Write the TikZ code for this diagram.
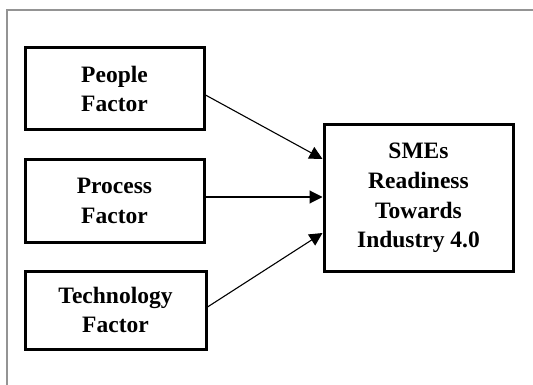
\documentclass[tikz,border=0pt]{standalone}
\usepackage{fontspec}
\setmainfont{Liberation Serif}
\usetikzlibrary{arrows.meta}
\begin{document}
\begin{tikzpicture}[x=1pt,y=-1pt,
  factorbox/.style={draw=black,line width=3pt,inner sep=0pt,align=center,
    font=\bfseries\fontsize{23.5}{29.6}\selectfont},
  link/.style={line width=1.1pt,-{Triangle[length=13pt,width=13pt]}},
  frameline/.style={draw=black!42,line width=1.5pt}]
  \useasboundingbox (0,0) rectangle (533,385);
  % outer frame (left and top edges)
  \draw[frameline] (7,385) -- (7,10) -- (533,10);
  % input factors
  \node[factorbox,minimum width=179pt,minimum height=82pt] (p) at (114.5,89) {People\\Factor};
  \node[factorbox,minimum width=179pt,minimum height=82pt] (q) at (114.5,201) {Process\\Factor};
  \node[factorbox,minimum width=181pt,minimum height=78pt] (t) at (115.5,310) {Technology\\Factor};
  % outcome
  \node[factorbox,minimum width=189pt,minimum height=146pt] (r) at (418.5,198) {SMEs\\Readiness\\Towards\\Industry 4.0};
  % connectors
  \draw[link] ([yshift=-6pt]p.east) -- ([yshift=39pt]r.west);
  \draw[link] ([yshift=4pt]q.east) -- ([yshift=1pt]r.west);
  \draw[link] ([yshift=3pt]t.east) -- ([yshift=-35pt]r.west);
\end{tikzpicture}
\end{document}
